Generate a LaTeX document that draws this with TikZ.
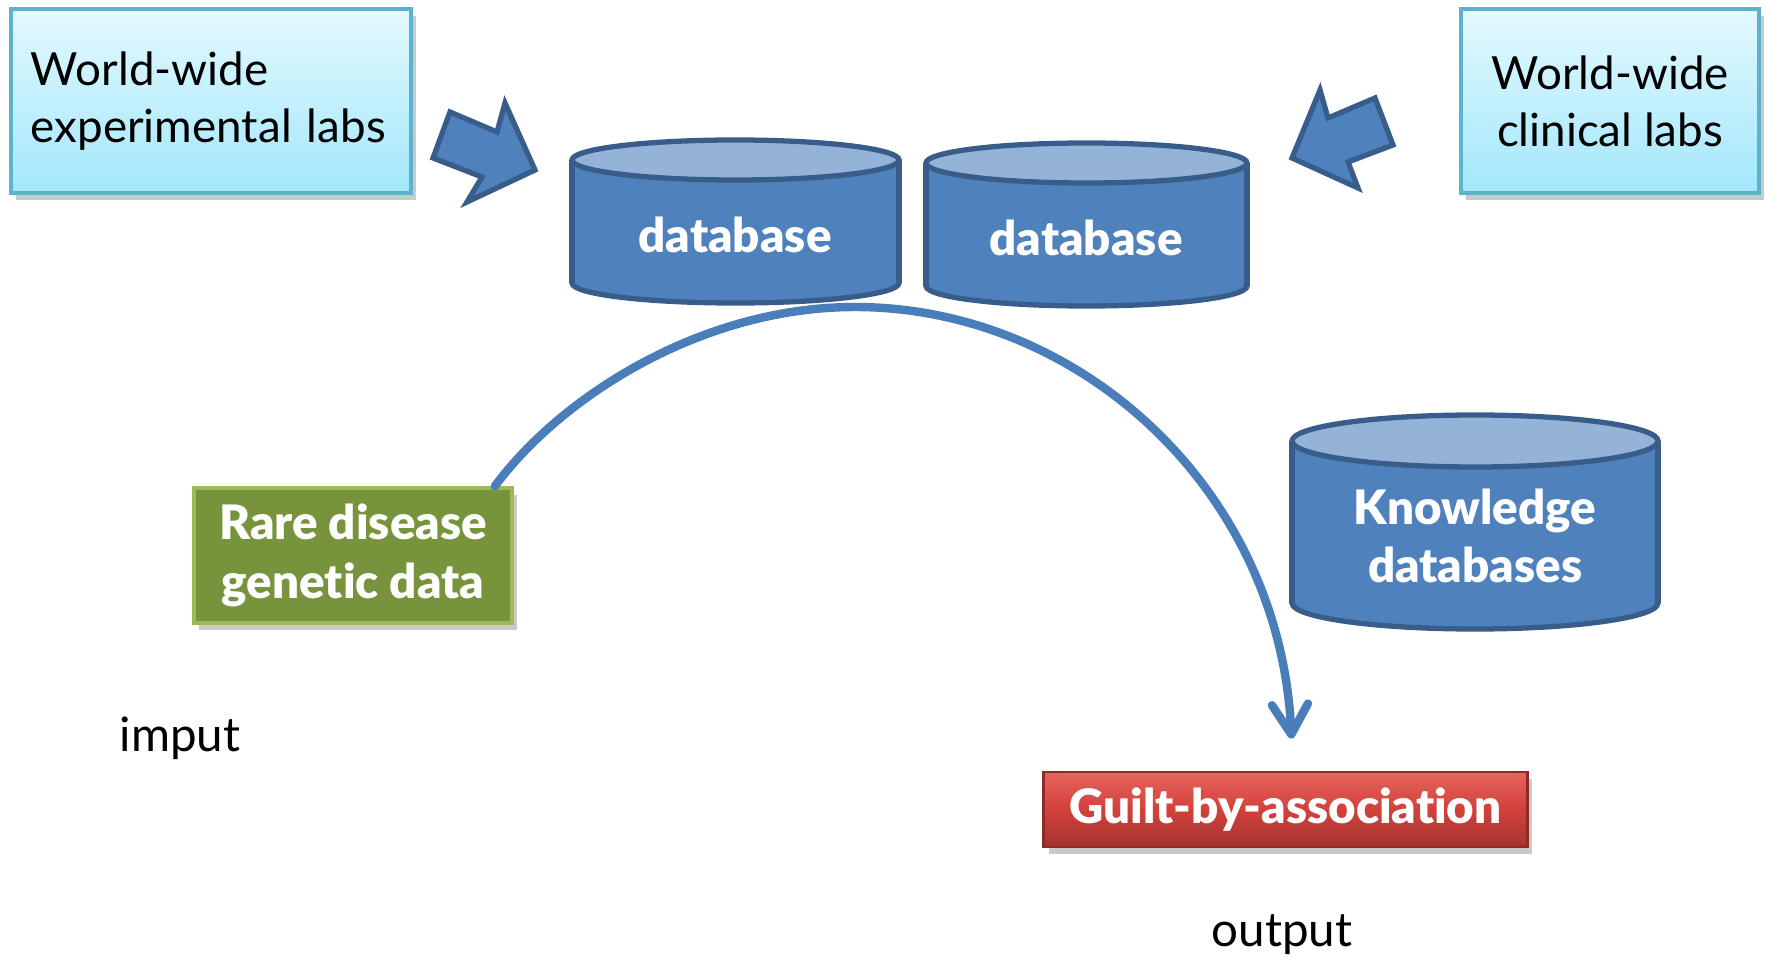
\documentclass[tikz,border=0pt]{standalone}
\usepackage{fontspec}
\setmainfont{Lato}[Ligatures={NoCommon},BoldFont={Lato Black}]
\usetikzlibrary{arrows.meta,shadows,calc}
\definecolor{dbfill}{HTML}{4F81BD}
\definecolor{dbtop}{HTML}{95B3D7}
\definecolor{dbline}{HTML}{385D8A}
\definecolor{boxtop}{HTML}{E3F9FE}
\definecolor{boxbot}{HTML}{A3E7FC}
\definecolor{boxline}{HTML}{5BB3CE}
\definecolor{grfill}{HTML}{77933C}
\definecolor{grline}{HTML}{9BBB59}
\definecolor{redtop}{HTML}{E5645E}
\definecolor{redmid}{HTML}{D2413B}
\definecolor{redbot}{HTML}{A33431}
\definecolor{redline}{HTML}{8E2B27}
\definecolor{arcblue}{HTML}{4A7EBB}
\newcommand\mycylinder[5]{%
  \fill[dbfill,draw=dbline,line width=1.5pt] ({(#1+#2)/2},#4) ellipse [x radius={(#2-#1)/2}, y radius=#5];
  \fill[dbfill] (#1,#3) rectangle (#2,#4);
  \draw[dbline,line width=1.5pt] (#1,#3) -- (#1,#4) (#2,#3) -- (#2,#4);
  \filldraw[fill=dbtop,draw=dbline,line width=1.5pt] ({(#1+#2)/2},#3) ellipse [x radius={(#2-#1)/2}, y radius=#5];
}
\tikzset{
  labbox/.style={draw=boxline, line width=1pt, top color=boxtop, bottom color=boxbot,
    drop shadow={shadow xshift=1.5pt,shadow yshift=-2pt,opacity=0.35,fill=black!60},
    minimum height=1.84cm, font=\fontsize{13}{16.2}\selectfont, text=black},
  dbtext/.style={text=white, font=\bfseries\fontsize{13.5}{17}\selectfont, align=center},
  plaintext/.style={text=black, font=\fontsize{13.5}{16.5}\selectfont},
  blockarrow/.style={fill=dbfill, draw=dbline, line width=1.5pt, line join=miter},
  flowarc/.style={draw=arcblue, line width=2.4pt, line cap=round,
    -{Straight Barb[length=3mm,width=3.6mm,line cap=round,line join=round]}},
}
\begin{document}
\begin{tikzpicture}[x=0.01cm,y=-0.01cm]
\useasboundingbox (0,0) rectangle (1766,961);

% lab boxes
\node[labbox, minimum width=4cm, text width=3.6cm, align=left, inner xsep=0.2cm] (explabs) at (211,101)
  {World-wide\\experimental labs};
\node[labbox, minimum width=2.98cm, align=center] (cliniclabs) at (1610,101)
  {World-wide\\clinical labs};

% block arrows
\draw[blockarrow] (450,112) -- (497,132) -- (505,103) -- (535,170) -- (467,202) -- (482,177) -- (433,158) -- cycle;
\draw[blockarrow] (1320,90) -- (1328,118) -- (1375,98) -- (1393,145) -- (1348,162) -- (1358,188) -- (1292,158) -- cycle;

% databases
\mycylinder{572}{899}{160}{283}{20}
\node[dbtext] (db1) at (735,235) {database};
\mycylinder{926}{1247}{163}{286}{20}
\node[dbtext] (db2) at (1086,238) {database};
\mycylinder{1292}{1658}{441}{603}{26}
\node[dbtext, font=\bfseries\fontsize{13.5}{16.4}\selectfont] (kdb) at (1475,536) {Knowledge\\databases};

% green input box
\node[fill=grfill, draw=grline, line width=1pt, minimum width=3.18cm, minimum height=1.35cm,
  drop shadow={shadow xshift=1.5pt,shadow yshift=-2pt,opacity=0.35,fill=black!60},
  text=white, font=\bfseries\fontsize{13.5}{16.6}\selectfont, align=center] (rare) at (353,555.5)
  {Rare disease\\genetic data};

% red output box
\node[draw=redline, line width=0.8pt, top color=redtop, bottom color=redbot, middle color=redmid,
  minimum width=4.83cm, minimum height=0.75cm,
  drop shadow={shadow xshift=1.5pt,shadow yshift=-2pt,opacity=0.35,fill=black!60},
  text=white, font=\bfseries\fontsize{13.5}{17}\selectfont] (gba) at (1285.5,809.5)
  {Guilt-by-association};

% labels
\node[plaintext] (imput) at (180,738) {imput};
\node[plaintext] (output) at (1282,935) {output};

% arc
\coordinate (arcstart) at ($(rare.north east)+(-19,0)$);
\coordinate (arctop) at (855,307);
\coordinate (arcend) at ($(gba.north)+(6,-32)$);
\draw[flowarc] (arcstart) .. controls (560,398) and (700,307) .. (arctop)
  .. controls (1080,307) and (1280,490) .. (arcend);
\end{tikzpicture}
\end{document}
